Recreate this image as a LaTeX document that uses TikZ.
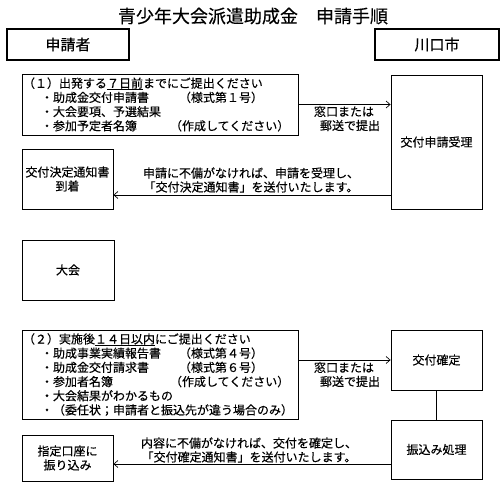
\documentclass[tikz,border=0pt]{standalone}
\usepackage{fontspec}
\setmainfont{Noto Sans CJK JP}[FakeBold=0.3]
\usetikzlibrary{arrows.meta}
% bullet line: item in a fixed-width box, then the note
\newcommand{\docline}[3]{\hspace*{18pt}\makebox[#1][l]{・#2}#3}
% underlined deadline
\newcommand{\deadline}[1]{\setbox0\hbox{#1}\rlap{\rule[-1.8pt]{\wd0}{0.7pt}}\box0}

\begin{document}
\begin{tikzpicture}[x=1pt, y=-1pt,
      box/.style={draw=black, line width=0.8pt, minimum width=91pt, minimum height=60pt,
                  inner sep=0pt, align=center, font=\fontsize{12}{14}\selectfont},
      hdr/.style={draw=black, line width=1.6pt, minimum height=31pt, inner sep=0pt,
                  font=\fontsize{15}{17}\selectfont},
      req/.style={draw=black, line width=0.8pt, text width=274pt, inner xsep=1pt, inner ysep=0pt,
                  align=left, font=\fontsize{12}{14.2}\selectfont},
      note/.style={inner sep=0pt, font=\fontsize{12}{14}\selectfont},
      arr/.style={-{Straight Barb[length=4pt,width=7pt]}, line width=0.7pt}]
  \useasboundingbox (0,0) rectangle (504,489);
  % Title and headers
  \node[font=\fontsize{18}{20}\selectfont] (title) at (253,16) {青少年大会派遣助成金　申請手順};
  \node[hdr, minimum width=122pt] (appl) at (68,44.5)  {申請者};
  \node[hdr, minimum width=124pt] (city) at (437,44.5) {川口市};
  % Step 1
  \node[req, minimum height=61pt] (req1) at (160,104.5) {%
    （１）出発する\deadline{７日前}までにご提出ください\\
    \docline{138pt}{助成金交付申請書}{（様式第１号）}\\
    \docline{138pt}{大会要項、予選結果}{}\\
    \docline{129pt}{参加予定者名簿}{（作成してください）}};
  \node[box, minimum height=134pt] (recv)   at (436.5,142) {交付申請受理};
  \node[box]                       (notice) at (67.5,179)  {交付決定通知書\\到着};
  \node[box, minimum width=92pt]   (meet)   at (68,270)    {大会};
  % Step 2
  \node[req, minimum height=89pt] (req2) at (160,374.5) {%
    （２）実施後\deadline{１４日以内}にご提出ください\\
    \docline{138pt}{助成事業実績報告書}{（様式第４号）}\\
    \docline{138pt}{助成金交付請求書}{（様式第６号）}\\
    \docline{129pt}{参加者名簿}{（作成してください）}\\
    \docline{138pt}{大会結果がわかるもの}{}\\
    \hspace*{18pt}・（委任状；申請者と振込先が違う場合のみ）};
  \node[box]                    (confirm)  at (436.5,360)   {交付確定};
  \node[box, minimum height=59pt] (pay)    at (436.5,449.5) {振込み処理};
  \node[box, minimum height=46pt] (transfer) at (67.5,458)  {指定口座に\\振り込み};
  % Labels on the arrows
  \node[note, align=left]   (way1) at (347,118.5) {窓口または\\\hspace*{6pt}郵送で提出};
  \node[note, align=center] (ok1)  at (251,180)   {申請に不備がなければ、申請を受理し、\\「交付決定通知書」を送付いたします。};
  \node[note, align=left]   (way2) at (347,374.5) {窓口または\\\hspace*{6pt}郵送で提出};
  \node[note, align=center] (ok2)  at (249,450)   {内容に不備がなければ、交付を確定し、\\「交付確定通知書」を送付いたします。};
  % Arrows
  \draw[arr] (req1.east) -- (req1.east -| recv.west);
  \draw[arr] ([yshift=-16pt]notice.east -| recv.west) -- ([yshift=-16pt]notice.east);
  \draw[arr] (req2.east |- confirm.west) -- (confirm.west);
  \draw[line width=0.7pt] (confirm.south) -- (pay.north);
  \draw[arr] ([yshift=-6pt]transfer.east -| pay.west) -- ([yshift=-6pt]transfer.east);
\end{tikzpicture}
\end{document}
